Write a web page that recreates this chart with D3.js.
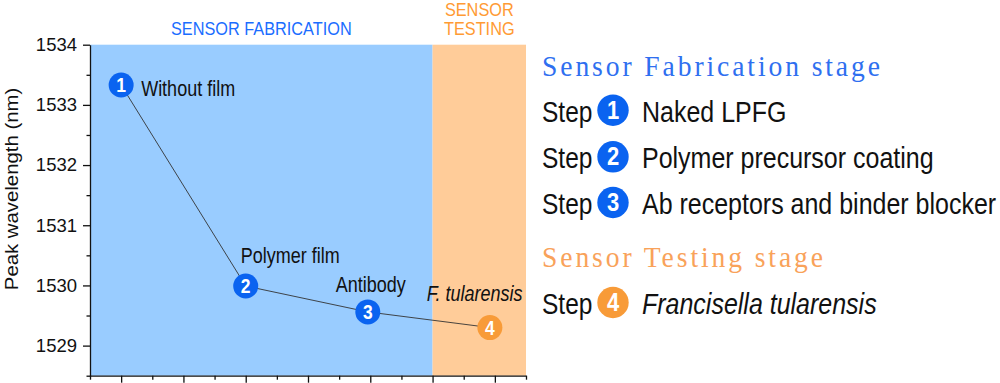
<!DOCTYPE html>
<html>
<head>
<meta charset="utf-8">
<script src="https://cdn.jsdelivr.net/npm/d3@7"></script>
<style>
  html, body { margin: 0; padding: 0; background: #fff; }
  svg { display: block; }
</style>
</head>
<body>
<div id="chart"></div>
<script>
// data
var steps = [1, 2, 3, 4];
var stepX = [1, 2, 2.98, 3.96];
var wavelength = [1533.33, 1529.99, 1529.56, 1529.30];
var pointLabels = ["Without film", "Polymer film", "Antibody", "F. tularensis"];
var stageNames = ["SENSOR FABRICATION", "SENSOR\nTESTING"];
var stageBounds = [[0.75, 3.5], [3.5, 4.25]];
var yMajor = [1529, 1530, 1531, 1532, 1533, 1534];
var yMinor = [1528.5, 1529.5, 1530.5, 1531.5, 1532.5, 1533.5];
var xMajor = [1, 1.5, 2, 2.5, 3, 3.5, 4];
var xMinor = [0.75, 1.25, 1.75, 2.25, 2.75, 3.25, 3.75, 4.25];
var legendHeads = ["Sensor Fabrication stage", "Sensor Testing stage"];
var legendSteps = ["Naked LPFG", "Polymer precursor coating", "Ab receptors and binder blocker", "Francisella tularensis"];

var W = 1000, H = 383;
var K = 1.18; // the figure's text is a bit taller than it is wide
var sans = "'Liberation Sans', Arial, Helvetica, sans-serif";
var serif = "'Liberation Serif', 'Times New Roman', serif";
var blueBg = "#99ccff", orangeBg = "#ffcc99";
var blueDot = "#0a63f0", orangeDot = "#f89b38";
var stageText = ["#1a6dff", "#ff9a33"];
var headText = ["#2f6ff0", "#f9a25a"];

var svg = d3.select("#chart").append("svg")
    .attr("width", W)
    .attr("height", H);

var x = d3.scaleLinear().domain([0.75, 4.25]).range([90, 526]);
var y = d3.scaleLinear().domain([1528.5, 1534]).range([375.7, 44.7]);

function stretched(g, px, py, str, size, opts) {
  opts = opts || {};
  var t = g.append("text")
    .attr("transform", "translate(" + px + "," + py + ") scale(1," + (opts.k || K) + ")")
    .attr("font-family", opts.family || sans)
    .attr("font-size", size)
    .attr("fill", opts.fill || "#111")
    .attr("text-anchor", opts.anchor || "start")
    .text(str);
  if (opts.weight) t.attr("font-weight", opts.weight);
  if (opts.italic) t.attr("font-style", "italic");
  if (opts.spacing) t.attr("letter-spacing", opts.spacing);
  return t;
}

// stage backgrounds
var bgColors = [blueBg, orangeBg];
svg.selectAll("rect.stage")
  .data(stageBounds)
  .enter().append("rect")
    .attr("class", "stage")
    .attr("x", function(d){ return x(d[0]); })
    .attr("width", function(d){ return x(d[1]) - x(d[0]); })
    .attr("y", y(1534))
    .attr("height", y(1528.5) - y(1534))
    .attr("fill", function(d, i){ return bgColors[i]; });

// stage titles above the plot
stageNames.forEach(function(name, i){
  var cx = (x(stageBounds[i][0]) + x(stageBounds[i][1])) / 2;
  var lines = name.split("\n");
  lines.forEach(function(line, j){
    var by = 35 - (lines.length - 1 - j) * 19;
    stretched(svg, cx, by, line, 16.3, {anchor: "middle", fill: stageText[i], k: 1.12});
  });
});

// axes
var yAxis = svg.append("g").attr("transform", "translate(" + x(0.75) + ",0)");
yAxis.call(d3.axisLeft(y).tickValues(yMajor).tickSize(7).tickSizeOuter(0).tickFormat(d3.format("d")));
yAxis.append("g").call(d3.axisLeft(y).tickValues(yMinor).tickSize(3.5).tickSizeOuter(0).tickFormat(""))
  .select(".domain").remove();
yAxis.selectAll("text")
  .attr("font-family", sans)
  .attr("font-size", 18.5)
  .attr("fill", "#111")
  .attr("x", -13);

var xAxis = svg.append("g").attr("transform", "translate(0," + y(1528.5) + ")");
xAxis.call(d3.axisBottom(x).tickValues(xMajor).tickSize(7).tickSizeOuter(0).tickFormat(""));
xAxis.append("g").call(d3.axisBottom(x).tickValues(xMinor).tickSize(4).tickSizeOuter(0).tickFormat(""))
  .select(".domain").remove();
svg.selectAll(".domain, .tick line").attr("stroke", "#111").attr("stroke-width", 1.3);

// y axis title
svg.append("text")
  .attr("transform", "translate(18,189) rotate(-90) scale(1.1,1)")
  .attr("font-family", sans)
  .attr("font-size", 18.5)
  .attr("fill", "#111")
  .attr("text-anchor", "middle")
  .text("Peak wavelength (nm)");

// connecting line
var pts = steps.map(function(s, i){ return [stepX[i], wavelength[i]]; });
svg.append("path")
  .datum(pts)
  .attr("fill", "none")
  .attr("stroke", "#333")
  .attr("stroke-width", 0.9)
  .attr("d", d3.line().x(function(d){ return x(d[0]); }).y(function(d){ return y(d[1]); }));

// numbered markers
var dotColor = function(i){ return i < 3 ? blueDot : orangeDot; };
var marks = svg.selectAll("g.mark")
  .data(pts)
  .enter().append("g")
    .attr("class", "mark")
    .attr("transform", function(d){ return "translate(" + x(d[0]) + "," + y(d[1]) + ")"; });
marks.append("circle")
  .attr("r", 12.5)
  .attr("fill", function(d, i){ return dotColor(i); });
marks.each(function(d, i){
  stretched(d3.select(this), 0, 7, steps[i], 17.5, {anchor: "middle", fill: "#fff", weight: "bold", k: 1.2});
});

// point annotations
var labelOffset = [[20, 11], [-5, -23], [-32, -20], [-63, -27]];
pts.forEach(function(d, i){
  stretched(svg, x(d[0]) + labelOffset[i][0], y(d[1]) + labelOffset[i][1], pointLabels[i], 18,
    {italic: i === 3, k: 1.2});
});

// legend on the right
var lg = svg.append("g");
var lx = 542, numX = 613, textX = 642;
var rowY = [121.7, 168.3, 214, 314];
var headY = [76, 266.7];
legendHeads.forEach(function(h, i){
  stretched(lg, lx, headY[i], h, 27.6, {family: serif, fill: headText[i], spacing: 2.9, k: 1.1});
});
legendSteps.forEach(function(s, i){
  var by = rowY[i];
  stretched(lg, lx, by, "Step", 24.5, {k: 1.17});
  lg.append("circle")
    .attr("cx", numX)
    .attr("cy", by - 11.5)
    .attr("r", 15.7)
    .attr("fill", dotColor(i));
  stretched(lg, numX, by - 3, steps[i], 22, {anchor: "middle", fill: "#fff", weight: "bold"});
  stretched(lg, textX, by, s, 25, {k: 1.17, italic: i === 3});
});
</script>
</body>
</html>
